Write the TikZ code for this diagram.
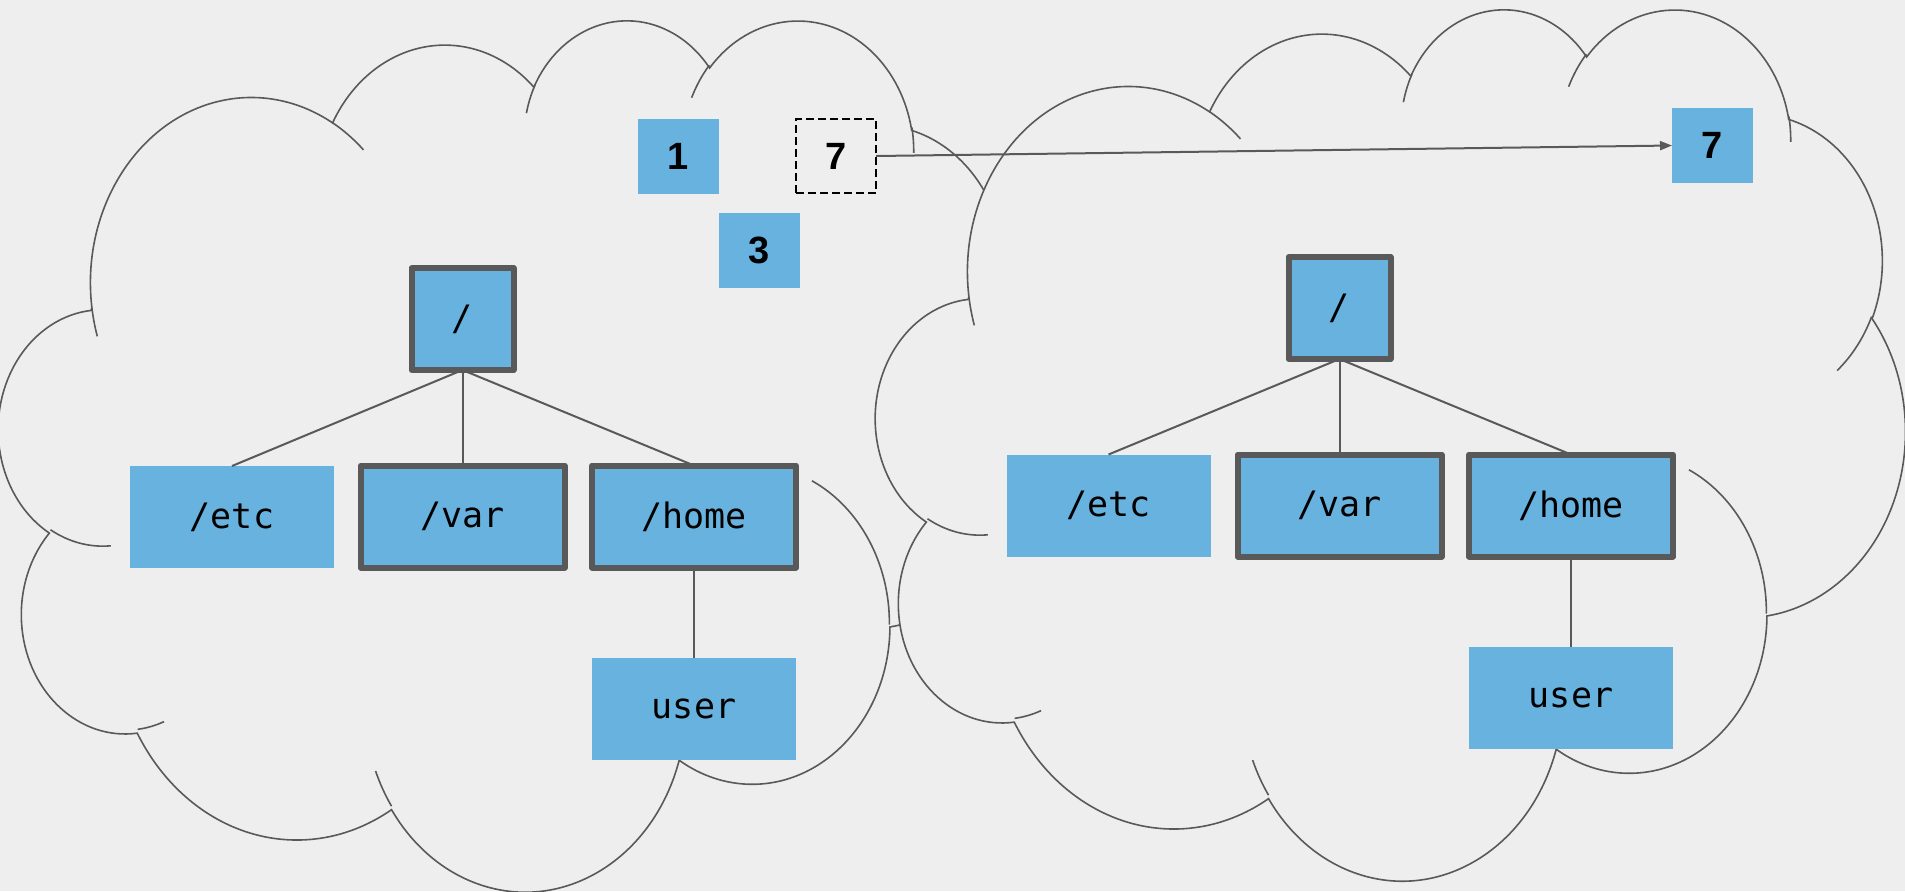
\documentclass[tikz,border=0pt]{standalone}
\usepackage{fontspec}
\usetikzlibrary{arrows.meta}
\newfontfamily\labelfont{DejaVu Sans Mono}
\newfontfamily\digitfont{Liberation Sans}
\definecolor{bgc}{HTML}{EEEEEE}
\definecolor{boxblue}{HTML}{67B2DE}
\definecolor{darkline}{HTML}{595959}
\newcommand\cldarc[4]{%
  \pgfmathsetmacro\cldts{atan2((#1)*sin(#3),(#2)*cos(#3))}%
  \pgfmathsetmacro\cldte{atan2((#1)*sin((#3)+(#4)),(#2)*cos((#3)+(#4)))}%
  \pgfmathsetmacro\cldend{\cldts+mod(\cldte-\cldts+720,360)}%
  \pgfpatharc{\cldts}{\cldend}{#1pt and #2pt}%
}
\newcommand\cloudmain{%
  \pgfpathmoveto{\pgfpoint{3.9pt}{14.37pt}}%
  \cldarc{6.753}{9.19}{-190.48748}{123.78053}%
  \cldarc{5.333}{7.267}{-144.10238}{89.94523}%
  \cldarc{4.365}{5.945}{-145.80792}{99.72302}%
  \cldarc{4.857}{6.595}{-130.98607}{117.24173}%
  \cldarc{5.333}{7.273}{-78.70888}{109.02692}%
  \cldarc{6.775}{9.22}{-46.26725}{130.269}%
  \cldarc{5.785}{7.867}{0.62502}{114.03333}%
  \cldarc{6.752}{9.215}{22.4516}{115.17255}%
  \cldarc{7.72}{10.543}{66.24263}{75.71102}%
  \cldarc{4.36}{5.918}{-274.94208}{146.73557}%
  \cldarc{4.345}{5.945}{-246.8285}{152.51885}%
  \pgfpathclose
}
\newcommand\cloudinner{%
  \pgfpathmoveto{\pgfpoint{4.693pt}{26.177pt}}\cldarc{4.345}{5.945}{86.742}{26.4295}%
  \pgfpathmoveto{\pgfpoint{6.928pt}{34.899pt}}\cldarc{4.36}{5.918}{73.61047}{11.44747}%
  \pgfpathmoveto{\pgfpoint{16.478pt}{39.09pt}}\cldarc{6.752}{9.215}{137.62415}{14.0811}%
  \pgfpathmoveto{\pgfpoint{28.827pt}{34.751pt}}\cldarc{6.752}{9.215}{6.45327}{15.99835}%
  \pgfpathmoveto{\pgfpoint{34.129pt}{22.954pt}}\cldarc{5.785}{7.867}{-70.29235}{70.91737}%
  \pgfpathmoveto{\pgfpoint{41.798pt}{15.354pt}}\cldarc{5.333}{7.273}{30.31803}{27.7515}%
  \pgfpathmoveto{\pgfpoint{38.324pt}{5.426pt}}\cldarc{4.857}{6.595}{-13.74433}{14.8589}%
  \pgfpathmoveto{\pgfpoint{29.078pt}{3.952pt}}\cldarc{4.857}{6.595}{-149.18145}{18.19537}%
  \pgfpathmoveto{\pgfpoint{22.141pt}{4.72pt}}\cldarc{4.365}{5.945}{-163.49427}{17.68635}%
  \pgfpathmoveto{\pgfpoint{14pt}{5.192pt}}\cldarc{6.753}{9.19}{-66.70695}{12.31935}%
  \pgfpathmoveto{\pgfpoint{4.127pt}{15.789pt}}\cldarc{6.753}{9.19}{157.65435}{11.85817}%
}
\newcommand\drawcloud[3]{%
  \begin{scope}[shift={(#1,#2)}, xscale=11.91, yscale=-10.081]
    \pgfsetlinewidth{0.8pt}\pgfsetstrokecolor{darkline}\pgfsetfillcolor{bgc}%
    \cloudmain\pgfusepath{#3}%
    \cloudinner\pgfusepath{stroke}%
  \end{scope}%
}
\begin{document}
\begin{tikzpicture}[x=0.5pt, y=-0.5pt,
  lbl/.style={rectangle, fill=boxblue, inner sep=0pt, outer sep=0pt,
    font=\labelfont\fontsize{17.5}{20}\selectfont, text=black},
  dirbox/.style={lbl, minimum width=102pt, minimum height=51pt},
  rootbox/.style={lbl, minimum width=51pt, minimum height=51pt},
  framed/.style={draw=darkline, line width=3pt, line join=round},
  numbox/.style={rectangle, inner sep=0pt, outer sep=0pt, minimum width=40.5pt,
    minimum height=37.5pt, font=\digitfont\bfseries\fontsize{19}{22}\selectfont, text=black},
  conn/.style={draw=darkline, line width=1pt},
  linkarrow/.style={draw=darkline, line width=1pt, -{Triangle[length=6pt,width=4.5pt]}}]
\fill[bgc] (0,0) rectangle (1905,891);
\path[use as bounding box] (0,0) rectangle (1905,891);

% left cloud
\drawcloud{-1}{18}{stroke}

% left tree
\node[rootbox, framed] (rootL) at (462.5,319) {/};
\node[dirbox] (etcL) at (232,517) {/etc};
\node[dirbox, framed] (varL) at (462.5,516.5) {/var};
\node[dirbox, framed] (homeL) at (694,516.5) {/home};
\node[dirbox] (userL) at (694,709) {user};
\draw[conn] (rootL.south) -- (etcL.north);
\draw[conn] (rootL.south) -- (varL.north);
\draw[conn] (rootL.south) -- (homeL.north);
\draw[conn] (homeL.south) -- (userL.north);

\node[numbox, fill=boxblue] (oneL) at (678.5,156.5) {1};
\node[numbox, fill=boxblue] (threeL) at (759.5,250.5) {3};
\node[numbox, draw=black, line width=1pt, dash pattern=on 4pt off 2pt,
  minimum width=40pt, minimum height=37pt] (sevenL) at (836,156) {7};

% right cloud
\drawcloud{876}{7}{fill,stroke}

% right tree
\node[rootbox, framed] (rootR) at (1339.5,308) {/};
\node[dirbox] (etcR) at (1108.5,505.5) {/etc};
\node[dirbox, framed] (varR) at (1339.5,505.5) {/var};
\node[dirbox, framed] (homeR) at (1571,505.5) {/home};
\node[dirbox] (userR) at (1571,698) {user};
\draw[conn] (rootR.south) -- (etcR.north);
\draw[conn] (rootR.south) -- (varR.north);
\draw[conn] (rootR.south) -- (homeR.north);
\draw[conn] (homeR.south) -- (userR.north);

\node[numbox, fill=boxblue] (sevenR) at (1712.5,145.5) {7};

\draw[linkarrow] (sevenL.east) -- (sevenR.west);
\end{tikzpicture}
\end{document}
